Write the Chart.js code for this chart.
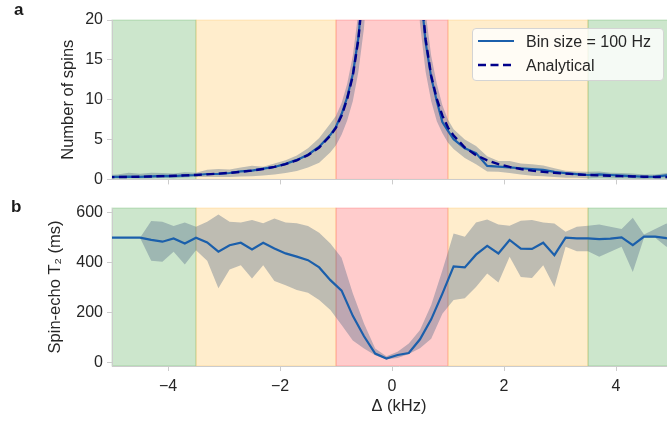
<!DOCTYPE html>
<html>
<head>
<meta charset="utf-8">
<script src="https://cdn.jsdelivr.net/npm/chart.js@4.4.0/dist/chart.umd.min.js"></script>
<style>
  html, body { margin: 0; padding: 0; background: #fff; overflow: hidden; }
  #fig { position: relative; width: 667px; height: 424px; overflow: hidden;
         font-family: "Liberation Sans", Arial, sans-serif; color: #262626; }
  #fig canvas { position: absolute; left: 0; }
  #topChart { top: 0; }
  #bottomChart { top: 190px; }
  .panel { position: absolute; font-weight: bold; font-size: 17px; line-height: 17px; color: #1a1a1a; }
  .legend { position: absolute; left: 472px; top: 28px; width: 190px; height: 51px;
            background: rgba(255,255,255,0.8); border: 1px solid #d4d4d4; border-radius: 4px; }
  .legend svg { position: absolute; left: 5px; }
  .legend span { position: absolute; left: 53px; font-size: 16px; line-height: 16px; color: #262626; white-space: nowrap; }
</style>
</head>
<body>
<div id="fig">
  <canvas id="topChart" width="686" height="193"></canvas>
  <canvas id="bottomChart" width="686" height="234"></canvas>
  <div class="panel" style="left:14px; top:1px;">a</div>
  <div class="panel" style="left:11px; top:198px;">b</div>
  <div class="legend">
    <svg width="36" height="6" style="top:9px"><line x1="0" y1="3" x2="36" y2="3" stroke="#1b5fab" stroke-width="2.2"/></svg>
    <svg width="36" height="6" style="top:33px"><line x1="0" y1="3" x2="36" y2="3" stroke="#00008b" stroke-width="2.4" stroke-dasharray="8,4.5"/></svg>
    <span style="top:5px">Bin size = 100 Hz</span>
    <span style="top:29px">Analytical</span>
  </div>
</div>
<script>
// detuning grid for the spin histogram (kHz), finer around the peak
const topX = [-5.1, -4.9, -4.7, -4.5, -4.3, -4.1, -3.9, -3.7, -3.5, -3.3, -3.1, -2.9, -2.7, -2.5, -2.3, -2.1, -1.9, -1.7, -1.5, -1.3,
  -1.1, -1.0, -0.9, -0.8, -0.7, -0.6, -0.5, -0.4, -0.3, -0.2, -0.1, 0, 0.1, 0.2, 0.3, 0.4, 0.5, 0.6, 0.7, 0.8, 0.9, 1.0, 1.1,
  1.3, 1.5, 1.7, 1.9, 2.1, 2.3, 2.5, 2.7, 2.9, 3.1, 3.3, 3.5, 3.7, 3.9, 4.1, 4.3, 4.5, 4.7, 4.9, 5.1];

const spinsAnalytical = [0.27, 0.29, 0.31, 0.34, 0.37, 0.41, 0.45, 0.5, 0.56, 0.63, 0.72, 0.82, 0.95, 1.1, 1.3, 1.57, 1.92, 2.4, 3.05, 4.0,
  5.5, 6.5, 8.0, 10.1, 13.0, 17.6, 25, 38, 66, 140, 400, 700, 400, 140, 66, 38, 25, 17.6, 13.0, 10.1, 8.0, 6.5, 5.5,
  4.0, 3.05, 2.4, 1.92, 1.57, 1.3, 1.1, 0.95, 0.82, 0.72, 0.63, 0.56, 0.5, 0.45, 0.41, 0.37, 0.34, 0.31, 0.29, 0.27];

const spinsBinned = [0.3, 0.32, 0.36, 0.31, 0.38, 0.44, 0.4, 0.5, 0.55, 0.68, 0.7, 0.8, 1.0, 1.1, 1.35, 1.55, 1.95, 2.45, 3.1, 4.1,
  5.6, 6.6, 8.2, 10.3, 13.2, 17.8, 25.5, 37, 68, 135, 380, 650, 390, 145, 64, 39, 24.5, 17.2, 12.8, 9.8, 7.2, 6.1, 5.05,
  3.9, 3.3, 1.7, 1.6, 1.5, 1.4, 1.3, 1.2, 0.95, 0.78, 0.65, 0.55, 0.62, 0.55, 0.48, 0.4, 0.33, 0.35, 0.5, 0.6];

const spinsLow = [0.15, 0.1, 0.15, 0.1, 0.15, 0.2, 0.15, 0.25, 0.3, 0.3, 0.3, 0.3, 0.35, 0.4, 0.5, 0.6, 0.8, 1.05, 1.5, 2.1,
  3.4, 4.3, 5.6, 7.4, 9.8, 13.5, 19, 28, 48, 100, 310, 520, 310, 105, 48, 29, 19.5, 13.5, 9.8, 7.3, 5.8, 4.6, 3.8,
  2.7, 1.9, 1.0, 0.95, 0.8, 0.6, 0.45, 0.4, 0.3, 0.2, 0.2, 0.15, 0.2, 0.15, 0.15, 0.1, 0.05, 0.1, 0.1, 0.2];

const spinsHigh = [0.55, 0.6, 0.85, 0.7, 0.85, 0.8, 0.75, 0.9, 0.85, 1.2, 1.3, 1.25, 1.5, 1.7, 1.6, 2.0, 2.4, 3.0, 3.9, 5.2,
  7.0, 8.0, 9.6, 12.0, 15.5, 21, 31, 47, 85, 180, 480, 860, 480, 180, 84, 47, 30, 21, 15.5, 12.0, 9.3, 7.5, 6.3,
  5.0, 4.2, 2.9, 2.3, 2.3, 2.0, 1.9, 1.75, 1.4, 1.1, 1.0, 0.95, 1.0, 0.85, 0.8, 0.75, 0.6, 0.6, 0.8, 0.9];

// T2 per 200 Hz detuning bin (ms)
const t2X = [-5.1, -4.9, -4.7, -4.5, -4.3, -4.1, -3.9, -3.7, -3.5, -3.3, -3.1, -2.9, -2.7, -2.5, -2.3, -2.1, -1.9, -1.7, -1.5, -1.3,
  -1.1, -0.9, -0.7, -0.5, -0.3, -0.1, 0.1, 0.3, 0.5, 0.7, 0.9, 1.1, 1.3, 1.5, 1.7, 1.9, 2.1, 2.3, 2.5, 2.7,
  2.9, 3.1, 3.3, 3.5, 3.7, 3.9, 4.1, 4.3, 4.5, 4.7, 4.9, 5.1];

const t2Mean = [500, 500, 500, 500, 491, 484, 497, 477, 500, 481, 444, 470, 480, 453, 480, 457, 437, 424, 410, 381,
  330, 288, 187, 105, 36, 16, 30, 38, 93, 173, 276, 385, 381, 432, 467, 437, 491, 456, 455, 480,
  430, 500, 497, 497, 494, 496, 501, 470, 504, 504, 498, 495];

const t2Low = [500, 500, 500, 500, 408, 404, 444, 393, 450, 408, 297, 373, 390, 337, 390, 327, 310, 290, 279, 250,
  210, 150, 88, 56, 29, 13, 18, 34, 57, 95, 195, 250, 257, 303, 357, 321, 424, 343, 339, 390,
  303, 464, 446, 446, 424, 444, 464, 363, 500, 500, 464, 470];

const t2High = [500, 500, 500, 500, 567, 564, 547, 561, 544, 564, 593, 564, 561, 571, 558, 577, 561, 558, 547, 520,
  477, 420, 277, 156, 56, 25, 43, 76, 130, 230, 370, 517, 504, 561, 573, 553, 548, 568, 571, 561,
  557, 524, 544, 548, 553, 544, 535, 580, 513, 535, 557, 530];

// detuning regimes: boundaries (kHz) and which regime sits between them
const regimeEdges = [-3.5, -1, 1, 3.5];
const regimeKinds = ['far', 'mid', 'near', 'mid', 'far'];

const xTicks = [-4, -2, 0, 2, 4];
const spinTicks = [0, 5, 10, 15, 20];
const t2Ticks = [0, 200, 400, 600];

const regimeFill = { far: 'rgba(0,128,0,0.2)', mid: 'rgba(255,165,0,0.2)', near: 'rgba(255,0,0,0.2)' };
const bandColor = 'rgba(75,100,130,0.36)';
const lineBlue = '#1b5fab';
const darkBlue = '#00008b';
const spineGray = '#cccccc';
const textGray = '#262626';
const fontFamily = '"Liberation Sans", Arial, sans-serif';

const pts = (xs, ys) => xs.map((x, i) => ({ x: x, y: ys[i] }));
const minus = v => (v < 0 ? '\u2212' + Math.abs(v) : String(v));

const regimePlugin = {
  id: 'regimes',
  beforeDraw(chart) {
    const { ctx, chartArea: a, scales: { x } } = chart;
    const bounds = [a.left].concat(regimeEdges.map(v => x.getPixelForValue(v)), [a.right]);
    ctx.save();
    for (let i = 0; i < regimeKinds.length; i++) {
      const c = regimeFill[regimeKinds[i]];
      ctx.fillStyle = c;
      ctx.fillRect(bounds[i], a.top, bounds[i + 1] - bounds[i], a.bottom - a.top);
      ctx.strokeStyle = c;
      ctx.lineWidth = 1;
      ctx.strokeRect(bounds[i], a.top, bounds[i + 1] - bounds[i], a.bottom - a.top);
    }
    ctx.restore();
  }
};

function xAxis(showLabels, height) {
  return {
    type: 'linear', min: -5, max: 5.25,
    afterBuildTicks: s => { s.ticks = xTicks.map(v => ({ value: v })); },
    afterFit: s => { s.height = height; },
    grid: { drawOnChartArea: false, drawTicks: true, tickLength: 5, color: spineGray },
    border: { color: spineGray, width: 1 },
    ticks: { display: showLabels, padding: 6, color: textGray, font: { size: 16, family: fontFamily }, callback: minus },
    title: { display: showLabels, text: '\u0394 (kHz)', color: textGray, font: { size: 16.5, family: fontFamily },
             padding: { top: 0, bottom: 8 } }
  };
}

function yAxis(min, max, ticks, label, titleOffset) {
  return {
    min: min, max: max,
    afterBuildTicks: s => { s.ticks = ticks.map(v => ({ value: v })); },
    afterFit: s => { s.width = 112; },
    grid: { drawOnChartArea: false, drawTicks: true, tickLength: 5, color: spineGray },
    border: { color: spineGray, width: 1 },
    ticks: { padding: 4, color: textGray, font: { size: 16, family: fontFamily } },
    title: { display: true, text: label, color: textGray, font: { size: 16.5, family: fontFamily },
             padding: { top: titleOffset, bottom: 0 } }
  };
}

const common = {
  responsive: false,
  animation: false,
  plugins: { legend: { display: false }, tooltip: { enabled: false } },
  elements: { point: { radius: 0 }, line: { tension: 0 } }
};

new Chart(document.getElementById('topChart'), {
  type: 'line',
  data: {
    datasets: [
      { data: pts(topX, spinsLow), borderWidth: 0, fill: false, order: 3 },
      { data: pts(topX, spinsHigh), borderWidth: 0, fill: '-1', backgroundColor: bandColor, order: 2 },
      { data: pts(topX, spinsBinned), borderColor: lineBlue, borderWidth: 2.2, fill: false, order: 1 },
      { data: pts(topX, spinsAnalytical), borderColor: darkBlue, borderWidth: 2.4, borderDash: [8, 4.5], fill: false, order: 0 }
    ]
  },
  options: Object.assign({}, common, {
    layout: { padding: { top: 20, left: 0, right: 0, bottom: 0 } },
    scales: {
      x: xAxis(false, 12),
      y: yAxis(0, 20, spinTicks, 'Number of spins', 59)
    }
  }),
  plugins: [regimePlugin]
});

new Chart(document.getElementById('bottomChart'), {
  type: 'line',
  data: {
    datasets: [
      { data: pts(t2X, t2Low), borderWidth: 0, fill: false, order: 2 },
      { data: pts(t2X, t2High), borderWidth: 0, fill: '-1', backgroundColor: bandColor, order: 1 },
      { data: pts(t2X, t2Mean), borderColor: lineBlue, borderWidth: 2.2, fill: false, order: 0 }
    ]
  },
  options: Object.assign({}, common, {
    layout: { padding: { top: 18, left: 0, right: 0, bottom: 0 } },
    scales: {
      x: xAxis(true, 58),
      y: yAxis(-14, 619, t2Ticks, 'Spin-echo T\u2082 (ms)', 46)
    }
  }),
  plugins: [regimePlugin]
});
</script>
</body>
</html>
